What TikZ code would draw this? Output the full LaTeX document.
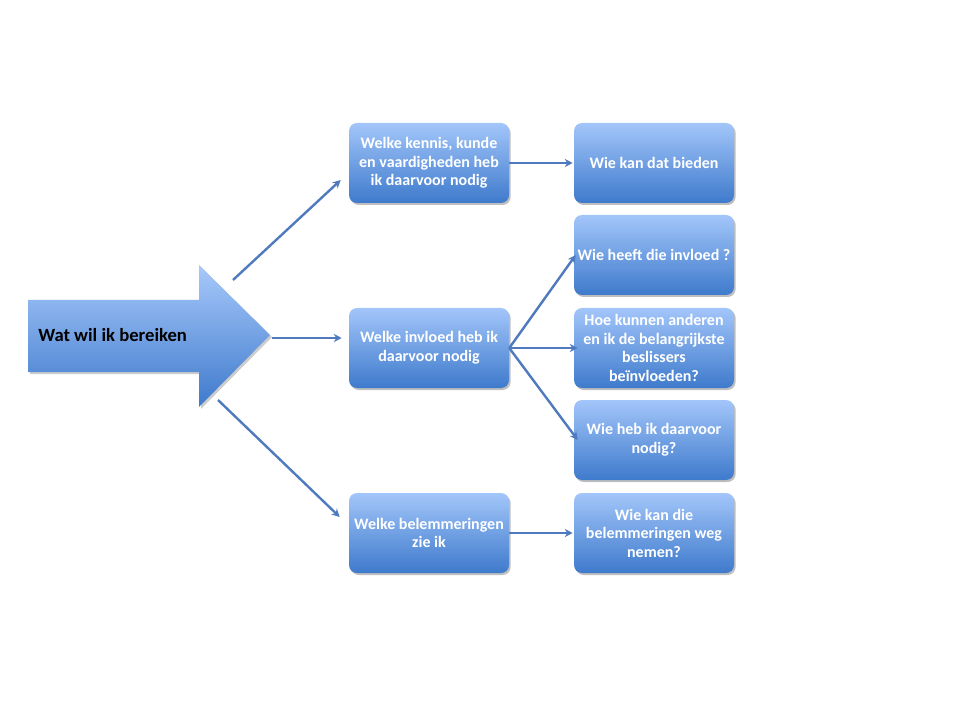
\documentclass[tikz,border=0pt]{standalone}
\usepackage{fontspec}
\setmainfont{Carlito}
\usetikzlibrary{shadows,arrows.meta,calc}
\definecolor{boxtop}{RGB}{163,198,250}
\definecolor{boxbot}{RGB}{62,122,204}
\definecolor{conncol}{RGB}{79,123,190}
\tikzset{
  box/.style={rounded corners=6pt, top color=boxtop, bottom color=boxbot,
    minimum width=120pt, minimum height=60pt, inner sep=1pt,
    text=white, font=\fontsize{12}{13.9}\selectfont\bfseries, align=center,
    drop shadow={shadow xshift=1.2pt, shadow yshift=-1.5pt, opacity=0.25, fill=black}},
  conn/.style={draw=conncol, line width=1.8pt, -{Stealth[length=6pt,width=6pt]}},
}
\begin{document}
\begin{tikzpicture}[x=0.75pt,y=-0.75pt]
\useasboundingbox (0,0) rectangle (960,720);
\fill[white] (0,0) rectangle (960,720);
% big arrow
\fill[black,opacity=0.2] (30,302) -- (201,302) -- (201,267) -- (272,337) -- (201,409) -- (201,374) -- (30,374) -- cycle;
\shade[top color=boxtop!95!white, bottom color=boxbot]
  (28,300) -- (199,300) -- (199,265) -- (270,335) -- (199,407) -- (199,372) -- (28,372) -- cycle;
\node[font=\fontsize{14}{16}\selectfont\bfseries, anchor=west, inner sep=0pt] (goal) at (38,335) {Wat wil ik bereiken};
\coordinate (s1) at (233,280);
\coordinate (s2) at (272,338);
\coordinate (s3) at (218,400);
% boxes
\node[box] (a1) at (429,163) {Welke kennis, kunde\\en vaardigheden heb\\ik daarvoor nodig};
\node[box] (a2) at (429,348) {Welke invloed heb ik\\daarvoor nodig};
\node[box] (a3) at (429,533) {Welke belemmeringen\\zie ik};
\node[box] (b1) at (654,163) {Wie kan dat bieden};
\node[box] (b2) at (654,255) {Wie heeft die invloed ?};
\node[box] (b3) at (654,348) {Hoe kunnen anderen\\en ik de belangrijkste\\beslissers\\beïnvloeden?};
\node[box] (b4) at (654,440) {Wie heb ik daarvoor\\nodig?};
\node[box] (b5) at (654,533) {Wie kan die\\belemmeringen weg\\nemen?};
% connectors
\draw[conn] (s1) -- ($(a1.west)+(-8,17)$);
\draw[conn] (s2) -- ($(a2.west)+(-7,-10)$);
\draw[conn] (s3) -- ($(a3.west)+(-9,-16)$);
\draw[conn] (a1.east) -- ($(b1.west)+(-1,0)$);
\draw[conn] (a2.east) -- ($(b2.west)+(2,0)$);
\draw[conn] (a2.east) -- ($(b3.west)+(4,0)$);
\draw[conn] (a2.east) -- ($(b4.west)+(4,0)$);
\draw[conn] (a3.east) -- ($(b5.west)+(-1,0)$);
\end{tikzpicture}
\end{document}
